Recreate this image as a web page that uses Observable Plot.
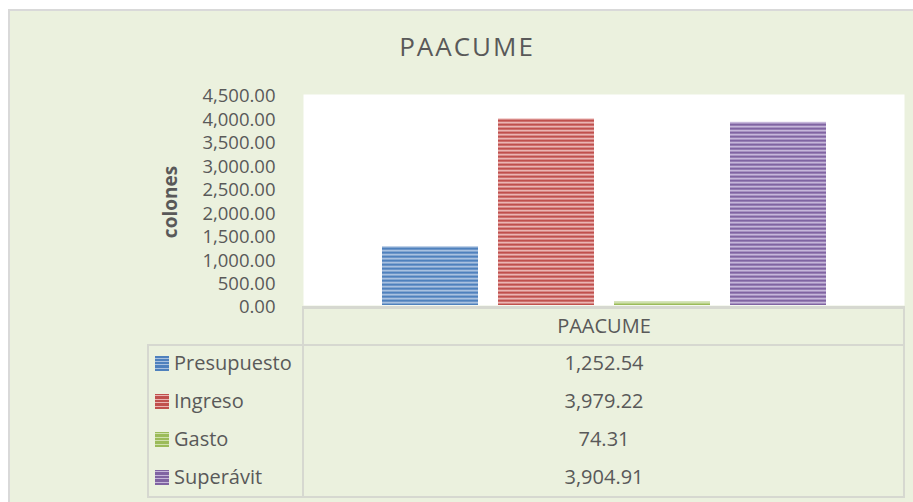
<!DOCTYPE html>
<html>
<head>
<meta charset="utf-8">
<script src="https://cdn.jsdelivr.net/npm/d3@7"></script>
<script src="https://cdn.jsdelivr.net/npm/@observablehq/plot@0.6"></script>
<style>
  html, body { margin: 0; padding: 0; background: #ffffff; }
  body { width: 913px; height: 502px; position: relative; overflow: hidden; font-family: "Open Sans", sans-serif; color: #595959; }
  #frame { position: absolute; left: 8px; top: 9px; width: 920px; height: 510px; background: #EBF1DE; border-left: 2px solid #d9d9d9; border-top: 2px solid #d9d9d9; }
  #title { position: absolute; left: 0; top: 33px; width: 934px; text-align: center; font-size: 26px; line-height: 26px; letter-spacing: 2px; color: #595959; }
  #chart { position: absolute; left: 0; top: 0; }
  .hl, .vl { position: absolute; background: #d6d8d0; }
  .cell { position: absolute; height: 38px; line-height: 38px; font-size: 20px; color: #595959; white-space: nowrap; }
  .sw { position: absolute; width: 14px; height: 15px; }
</style>
</head>
<body>
<div id="frame"></div>
<div id="title"></div>
<div id="chart"></div>
<div id="table"></div>
<script>
// ---- data ----
const chartTitle = "PAACUME";
const category = "PAACUME";
const seriesNames = ["Presupuesto", "Ingreso", "Gasto", "Superávit"];
const seriesValues = [1252.54, 3979.22, 74.31, 3904.91];
const yTicks = [0, 500, 1000, 1500, 2000, 2500, 3000, 3500, 4000, 4500];
const yLabel = "colones";
// stripe colours [dark, light]
const seriesColors = [["#4F81BD", "#a9c1e0"], ["#C0504D", "#eab5b3"], ["#9BBB59", "#cfe0ad"], ["#8064A2", "#c6b7da"]];

const data = seriesNames.map((name, i) => ({name, value: seriesValues[i]}));
const patternIds = seriesNames.map((_, i) => `stripe${i}`);

document.getElementById("title").textContent = chartTitle;

const fmt = d3.format(",.2f");

const plot = Plot.plot({
  width: 913,
  height: 320,
  marginLeft: 303,
  marginRight: 9,
  marginTop: 94,
  marginBottom: 15,
  style: {background: "transparent", fontFamily: "Open Sans, sans-serif", color: "#595959", overflow: "visible"},
  x: {type: "band", domain: seriesNames, paddingInner: 0.176, paddingOuter: 0.67, axis: null},
  y: {domain: [0, 4500]},
  color: {type: "ordinal", domain: seriesNames, range: patternIds.map(id => `url(#${id})`)},
  marks: [
    Plot.frame({fill: "white", stroke: null}),
    Plot.barY(data, {x: "name", y: "value", fill: "name"}),
    Plot.axisY({ticks: yTicks, tickFormat: fmt, tickSize: 0, tickPadding: 28, fontSize: 18.5, dy: 2, label: null}),
    Plot.text([yLabel], {frameAnchor: "left", textAnchor: "middle", dx: -133, dy: 2, rotate: -90, fontSize: 19, fontWeight: "bold", fill: "#595959"})
  ]
});

// stripe pattern definitions
const defs = d3.select(plot).insert("defs", ":first-child");
seriesColors.forEach(([dark, light], i) => {
  const mid = d3.interpolateRgb(dark, light)(0.45);
  const p = defs.append("pattern").attr("id", patternIds[i]).attr("patternUnits", "userSpaceOnUse").attr("width", 8).attr("height", 4);
  p.append("rect").attr("width", 8).attr("height", 4).attr("fill", mid);
  p.append("rect").attr("y", 0).attr("width", 8).attr("height", 1.3).attr("fill", dark);
  p.append("rect").attr("y", 2).attr("width", 8).attr("height", 1.2).attr("fill", light);
});
document.getElementById("chart").appendChild(plot);

// ---- data table under the chart ----
const table = document.getElementById("table");
function line(cls, x, y, w, h) {
  const d = document.createElement("div");
  d.className = cls;
  Object.assign(d.style, {left: x + "px", top: y + "px", width: w + "px", height: h + "px"});
  table.appendChild(d);
}
line("hl", 303, 306, 602, 3);   // axis / header top
line("vl", 302, 306, 2, 192);   // left of value column
line("hl", 147, 344, 758, 2);   // header bottom
line("vl", 147, 344, 2, 154);   // table left
line("vl", 903, 306, 2, 192);   // table right
line("hl", 147, 496, 758, 2);   // table bottom

function cell(text, x, cy, center) {
  const d = document.createElement("div");
  d.className = "cell";
  d.textContent = text;
  if (center) { d.style.left = (x - 150) + "px"; d.style.width = "300px"; d.style.textAlign = "center"; }
  else d.style.left = x + "px";
  d.style.top = (cy - 19) + "px";
  table.appendChild(d);
}
cell(category, 604, 326, true);
const rowY = [363, 401, 439, 477];
seriesNames.forEach((name, i) => {
  const [dark, light] = seriesColors[i];
  const sw = document.createElement("div");
  sw.className = "sw";
  Object.assign(sw.style, {left: "155px", top: (rowY[i] - 7) + "px",
    background: `repeating-linear-gradient(to bottom, ${dark} 0px, ${dark} 1.5px, ${light} 1.5px, ${light} 2.5px, ${dark} 2.5px, ${dark} 3.5px)`});
  table.appendChild(sw);
  cell(name, 174, rowY[i], false);
  cell(fmt(seriesValues[i]), 604, rowY[i], true);
});
</script>
</body>
</html>
